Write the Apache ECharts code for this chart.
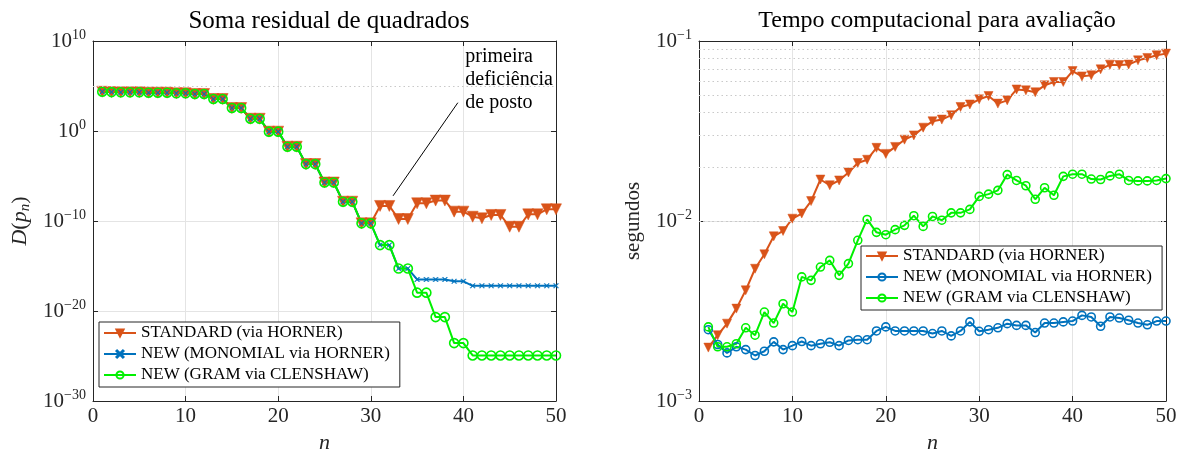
<!DOCTYPE html>
<html><head><meta charset="utf-8">
<script src="https://cdn.jsdelivr.net/npm/echarts@6/dist/echarts.min.js"></script>
<style>html,body{margin:0;padding:0;background:#fff}#c{width:1183px;height:457px}</style>
</head><body><div id="c"></div>
<script>
// ---------- data ----------
const nValues = [1,2,3,4,5,6,7,8,9,10,11,12,13,14,15,16,17,18,19,20,21,22,23,24,25,26,27,28,29,30,31,32,33,34,35,36,37,38,39,40,41,42,43,44,45,46,47,48,49,50];

// Left: D(p_n), residual sum of squares
const residStandard = [2.3e4,2.1e4,2.0e4,2.0e4,2.0e4,1.8e4,1.8e4,1.8e4,1.55e4,1.55e4,1.3e4,1.3e4,3.6e3,3.6e3,3.6e2,3.6e2,2.3e1,2.3e1,8.5e-1,8.5e-1,1.8e-2,1.8e-2,2.1e-4,2.1e-4,1.9e-6,1.9e-6,1.4e-8,1.4e-8,5.5e-11,5.5e-11,
  4.7e-9,4.7e-9,1.66e-10,1.66e-10,9.3e-9,9.3e-9,1.86e-8,1.86e-8,1.1e-9,1.1e-9,3.0e-10,2.0e-10,4.7e-10,4.7e-10,2.3e-11,2.3e-11,5.5e-10,5.5e-10,2.0e-9,2.0e-9];
const residMonomial = [2.3e4,2.1e4,2.0e4,2.0e4,2.0e4,1.8e4,1.8e4,1.8e4,1.55e4,1.55e4,1.3e4,1.3e4,3.6e3,3.6e3,3.6e2,3.6e2,2.3e1,2.3e1,8.5e-1,8.5e-1,1.8e-2,1.8e-2,2.1e-4,2.1e-4,1.9e-6,1.9e-6,1.4e-8,1.4e-8,5.5e-11,5.5e-11,
  2.1e-13,2.1e-13,5.2e-16,5.2e-16,3.2e-17,3.2e-17,3.2e-17,3.2e-17,2.0e-17,2.0e-17,6.3e-18,6.3e-18,6.3e-18,6.3e-18,6.3e-18,6.3e-18,6.3e-18,6.3e-18,6.3e-18,6.3e-18];
const residGram = [2.3e4,2.1e4,2.0e4,2.0e4,2.0e4,1.8e4,1.8e4,1.8e4,1.55e4,1.55e4,1.3e4,1.3e4,3.6e3,3.6e3,3.6e2,3.6e2,2.3e1,2.3e1,8.5e-1,8.5e-1,1.8e-2,1.8e-2,2.1e-4,2.1e-4,1.9e-6,1.9e-6,1.4e-8,1.4e-8,5.5e-11,5.5e-11,
  2.1e-13,2.1e-13,5.2e-16,5.2e-16,1.1e-18,1.1e-18,2.1e-21,2.1e-21,2.7e-24,2.7e-24,1.15e-25,1.15e-25,1.15e-25,1.15e-25,1.15e-25,1.15e-25,1.15e-25,1.15e-25,1.15e-25,1.15e-25];
const leftRange = [0.99999e-30, 1e10];
const leftMinorGrid = [1e5, 1e-5, 1e-15, 1e-25];
const noteText = 'primeira\ndeficiência\nde posto';
const noteAt = [40.2, 5e5];
const arrowFrom = [39.4, 1.4e3];
const arrowTo = [32.4, 6.2e-8];

// Right: computation time (seconds)
const timeStandard = [0.00198,0.00232,0.00269,0.00326,0.00412,0.00543,0.00653,0.00822,0.00880,0.0103,0.0110,0.0129,0.0170,0.0158,0.0168,0.0186,0.0210,0.0219,0.0255,0.0236,
  0.0258,0.0283,0.0299,0.0330,0.0358,0.0366,0.0387,0.0430,0.0444,0.0474,0.0495,0.0449,0.0468,0.0538,0.0532,0.0519,0.0567,0.0592,0.0592,0.0681,
  0.0636,0.0645,0.0696,0.0739,0.0735,0.0740,0.0781,0.0805,0.0833,0.0851];
const timeMonomial = [0.00249,0.00206,0.00185,0.00200,0.00193,0.00179,0.00189,0.00213,0.00193,0.00203,0.00214,0.00203,0.00208,0.00212,0.00203,0.00217,0.00219,0.00219,0.00245,0.00258,
  0.00245,0.00245,0.00245,0.00245,0.00237,0.00245,0.00230,0.00245,0.00275,0.00244,0.00249,0.00255,0.00269,0.00263,0.00263,0.00240,0.00271,0.00271,0.00275,0.00278,
  0.00299,0.00293,0.00260,0.00293,0.00289,0.00281,0.00271,0.00265,0.00278,0.00278];
const timeGram = [0.00258,0.00200,0.00200,0.00208,0.00255,0.00232,0.00312,0.00271,0.00347,0.00312,0.00489,0.00468,0.00555,0.00604,0.00499,0.00580,0.00781,0.0102,0.00865,0.00839,
  0.00895,0.00946,0.0107,0.00933,0.0106,0.0101,0.0111,0.0111,0.0116,0.0137,0.0141,0.0148,0.0181,0.0168,0.0157,0.0132,0.0153,0.0139,0.0177,0.0182,
  0.0182,0.0171,0.0170,0.0178,0.0182,0.0168,0.0167,0.0167,0.0168,0.0172];
const rightRange = [0.99999e-3, 1e-1];
const rightMinorGrid = [0.002,0.003,0.004,0.005,0.006,0.007,0.008,0.009,0.02,0.03,0.04,0.05,0.06,0.07,0.08,0.09];

const names = ['STANDARD (via HORNER)', 'NEW (MONOMIAL via HORNER)', 'NEW (GRAM via CLENSHAW)'];
const namesR = names.map(s => s + '\u00a0');
const titles = ['Soma residual de quadrados', 'Tempo computacional para avaliação'];

// ---------- styling ----------
const FF = 'Liberation Serif';
const INK = '#262626';
const C_OR = '#D95319', C_BL = '#0072BD', C_GR = '#00f000';
const triDown = 'path://M0,0L10,0L5,8.66Z';
const xMark = 'path://M1,0L5,4L9,0L10,1L6,5L10,9L9,10L5,6L1,10L0,9L4,5L0,1Z';

const pairs = ys => nValues.map((n, i) => [n, ys[i]]);
const supLabel = v => {
  const e = Math.round(Math.log10(v));
  return '{b|10}{s|' + (e < 0 ? '\u2212' + (-e) : e) + '}';
};
const richLab = {
  b: {fontSize: 21, fontFamily: FF, color: INK, lineHeight: 25},
  s: {fontSize: 14, fontFamily: FF, color: INK, lineHeight: 14, verticalAlign: 'top'}
};
const grids = [
  {left: 93, right: 627, top: 41, bottom: 56, outerBoundsMode: 'none', containLabel: false},
  {left: 699, right: 17, top: 41, bottom: 56, outerBoundsMode: 'none', containLabel: false}
];
function xAxes(g) {
  return [
    {type: 'value', gridIndex: g, min: 0, max: 50, interval: 10, position: 'bottom',
     axisLine: {onZero: false, lineStyle: {color: INK, width: 1}},
     axisTick: {inside: true, length: 5, lineStyle: {color: INK}},
     axisLabel: {fontSize: 21, fontFamily: FF, color: INK, margin: 5},
     splitLine: {show: true, lineStyle: {color: '#e4e4e4', width: 1}},
     name: 'n', nameLocation: 'middle', nameGap: 31, nameMoveOverlap: false,
     nameTextStyle: {fontSize: 22, fontFamily: FF, fontStyle: 'italic', color: INK}},
    {type: 'value', gridIndex: g, min: 0, max: 50, interval: 10, position: 'top',
     axisLine: {onZero: false, lineStyle: {color: INK, width: 1}},
     axisTick: {inside: true, length: 5, lineStyle: {color: INK}},
     axisLabel: {show: false}, splitLine: {show: false}}
  ];
}
function yAxes(g, range, nameText, nameGap, nameRich) {
  return [
    {type: 'log', logBase: 10, gridIndex: g, min: range[0], max: range[1], position: 'left',
     axisLine: {onZero: false, lineStyle: {color: INK, width: 1}},
     axisTick: {inside: true, length: 5, lineStyle: {color: INK}},
     axisLabel: {formatter: supLabel, rich: richLab, margin: 7, showMinLabel: true, showMaxLabel: true, hideOverlap: false},
     splitLine: {show: true, lineStyle: {color: '#e4e4e4', width: 1}},
     name: nameText, nameLocation: 'middle', nameGap: nameGap, nameRotate: 90, nameMoveOverlap: false,
     nameTextStyle: {fontSize: 21, fontFamily: FF, color: INK, rich: nameRich}},
    {type: 'log', logBase: 10, gridIndex: g, min: range[0], max: range[1], position: 'right',
     axisLine: {onZero: false, lineStyle: {color: INK, width: 1}},
     axisTick: {inside: true, length: 5, lineStyle: {color: INK}},
     axisLabel: {show: false}, splitLine: {show: false}}
  ];
}
const nameRichD = {
  i: {fontSize: 22, fontFamily: FF, fontStyle: 'italic', color: INK, lineHeight: 26},
  r: {fontSize: 22, fontFamily: FF, color: INK, lineHeight: 26},
  sub: {fontSize: 15, fontFamily: FF, fontStyle: 'italic', color: INK, lineHeight: 15, verticalAlign: 'bottom'}
};
const minorLine = vals => ({
  silent: true, symbol: 'none', label: {show: false},
  lineStyle: {color: '#c9c9c9', type: [1.5, 3], width: 1},
  data: vals.map(v => ({yAxis: v}))
});

function lineSeries(name, xi, yi, data, color, symbol, size, hollow, extra) {
  return Object.assign({
    type: 'line', name: name, xAxisIndex: xi, yAxisIndex: yi, data: data,
    symbol: symbol, symbolSize: size, showAllSymbol: true, animation: false,
    lineStyle: {color: color, width: 2},
    itemStyle: hollow ? {color: 'rgba(0,0,0,0)', borderColor: color, borderWidth: 1.6}
                      : {color: color, borderColor: color, borderWidth: 0.5},
    emphasis: {disabled: true}
  }, extra || {});
}

const series = [
  {type: 'line', name: 'gridL', xAxisIndex: 0, yAxisIndex: 0, data: [], markLine: minorLine(leftMinorGrid), animation: false},
  lineSeries(names[0], 0, 0, pairs(residStandard), C_OR, triDown, 11, false, {
    markLine: {silent: true, symbol: ['none', 'arrow'], symbolSize: [0, 11], label: {show: false},
      lineStyle: {color: '#000', width: 1, type: 'solid'}, animation: false,
      data: [[{coord: arrowFrom}, {coord: arrowTo}]]},
    markPoint: {silent: true, symbol: 'circle', symbolSize: 0, animation: false,
      data: [{coord: noteAt, label: {show: true, formatter: noteText, position: 'right', distance: 0,
        align: 'left', verticalAlign: 'middle', fontSize: 20, lineHeight: 23, fontFamily: FF, color: '#000'}}]}
  }),
  lineSeries(names[1], 0, 0, pairs(residMonomial), C_BL, xMark, 5, false),
  lineSeries(names[2], 0, 0, pairs(residGram), C_GR, 'circle', 9, true),
  {type: 'line', name: 'gridR', xAxisIndex: 2, yAxisIndex: 2, data: [], markLine: minorLine(rightMinorGrid), animation: false},
  lineSeries(namesR[0], 2, 2, pairs(timeStandard), C_OR, triDown, 9, false),
  lineSeries(namesR[1], 2, 2, pairs(timeMonomial), C_BL, 'circle', 8, true),
  lineSeries(namesR[2], 2, 2, pairs(timeGram), C_GR, 'circle', 8, true)
];

const legendCommon = {
  orient: 'vertical', selectedMode: false, itemWidth: 32, itemHeight: 9, itemGap: 1, itemTextGap: 5,
  backgroundColor: '#fff', borderColor: INK, borderWidth: 1, borderRadius: 0,
  textStyle: {fontSize: 17, fontFamily: FF, color: '#000', lineHeight: 20}
};

const option = {
  backgroundColor: '#fff',
  animation: false,
  title: [
    {text: titles[0], left: 324, top: 4, textAlign: 'center', textStyle: {fontSize: 25, fontWeight: 'normal', fontFamily: FF, color: '#000'}},
    {text: titles[1], left: 932, top: 4, textAlign: 'center', textStyle: {fontSize: 24, fontWeight: 'normal', fontFamily: FF, color: '#000'}}
  ],
  grid: grids,
  xAxis: xAxes(0).concat(xAxes(1)),
  yAxis: yAxes(0, leftRange, '{i|D}{r|(}{i|p}{sub|n}{r|)}', 60, nameRichD)
    .concat(yAxes(1, rightRange, 'segundos', 55, null)),
  legend: [
    Object.assign({}, legendCommon, {left: 99, top: 322, padding: [1, 10, 2, 4], data: names}),
    Object.assign({}, legendCommon, {left: 861, top: 246, padding: [0, 6, 2, 4], data: namesR})
  ],
  series: series
};
const chart = echarts.init(document.getElementById('c'));
chart.setOption(option);
</script></body></html>
